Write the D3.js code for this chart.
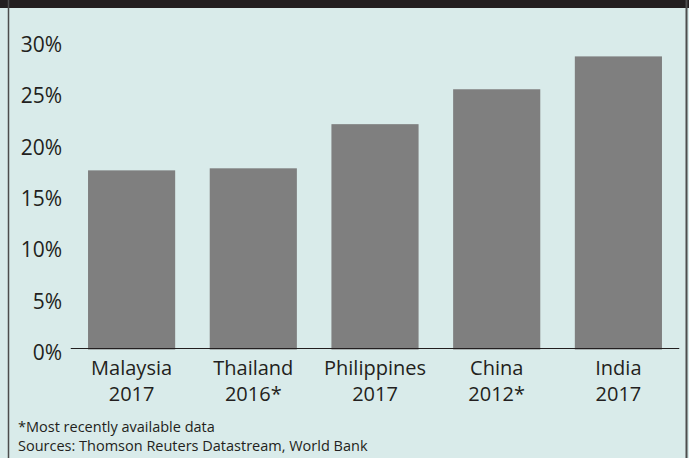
<!DOCTYPE html>
<html>
<head>
<meta charset="utf-8">
<script src="https://cdn.jsdelivr.net/npm/d3@7"></script>
<style>
  body { margin: 0; background: #d9ebea; }
  svg { display: block; font-family: "Open Sans", sans-serif; }
</style>
</head>
<body>
<script>
const width = 689;
const height = 458;

// data
const countries = ['Malaysia', 'Thailand', 'Philippines', 'China', 'India'];
const years = ['2017', '2016*', '2017', '2012*', '2017'];
const values = [17.4, 17.6, 21.9, 25.3, 28.5];
const yTicks = [0, 5, 10, 15, 20, 25, 30];
const notes = ['*Most recently available data', 'Sources: Thomson Reuters Datastream, World Bank'];

const svg = d3.select('body')
              .append('svg')
              .attr('width', width)
              .attr('height', height);

svg.append('rect')
    .attr('width', width)
    .attr('height', height)
    .attr('fill', '#d9ebea');

// dark header strip and frame lines
svg.append('rect')
    .attr('width', width)
    .attr('height', 8)
    .attr('fill', '#231f20');

svg.append('line')
    .attr('x1', 8.5).attr('x2', 8.5)
    .attr('y1', 0).attr('y2', height)
    .attr('stroke', '#4d4d4d')
    .attr('stroke-width', 1.5);

svg.append('line')
    .attr('x1', 686.5).attr('x2', 686.5)
    .attr('y1', 0).attr('y2', height)
    .attr('stroke', '#4d4d4d')
    .attr('stroke-width', 2);

const x = d3.scaleBand()
    .domain(countries)
    .range([70.75, 679.25])
    .paddingInner(0.284)
    .paddingOuter(0.142);

const y = d3.scaleLinear()
    .domain([0, 30])
    .range([349, 41]);

// bars
svg.append('g')
    .selectAll('rect')
    .data(values)
    .join('rect')
        .attr('x', (d, i) => x(countries[i]))
        .attr('y', d => y(d))
        .attr('width', x.bandwidth())
        .attr('height', d => y(0) - y(d) + 0.5)
        .attr('fill', '#7f7f7f');

// baseline
svg.append('line')
    .attr('x1', x.range()[0])
    .attr('x2', x.range()[1])
    .attr('y1', y(0) - 0.5)
    .attr('y2', y(0) - 0.5)
    .attr('stroke', '#231f20')
    .attr('stroke-width', 1.2);

// y tick labels
svg.append('g')
    .selectAll('text')
    .data(yTicks)
    .join('text')
        .attr('x', 62)
        .attr('y', d => y(d) + 11)
        .attr('text-anchor', 'end')
        .attr('font-size', 21)
        .attr('fill', '#231f20')
        .text(d => d + '%');

// category labels, two lines
const cat = svg.append('g')
    .selectAll('text')
    .data(countries)
    .join('text')
        .attr('text-anchor', 'middle')
        .attr('font-size', 20)
        .attr('fill', '#231f20');

cat.append('tspan')
    .attr('x', d => x(d) + x.bandwidth() / 2)
    .attr('y', 375)
    .text(d => d);

cat.append('tspan')
    .attr('x', d => x(d) + x.bandwidth() / 2)
    .attr('y', 401)
    .text((d, i) => years[i]);

// footnotes
svg.append('g')
    .selectAll('text')
    .data(notes)
    .join('text')
        .attr('x', 18)
        .attr('y', (d, i) => 432 + i * 19)
        .attr('font-size', 14.5)
        .attr('fill', '#231f20')
        .text(d => d);
</script>
</body>
</html>
